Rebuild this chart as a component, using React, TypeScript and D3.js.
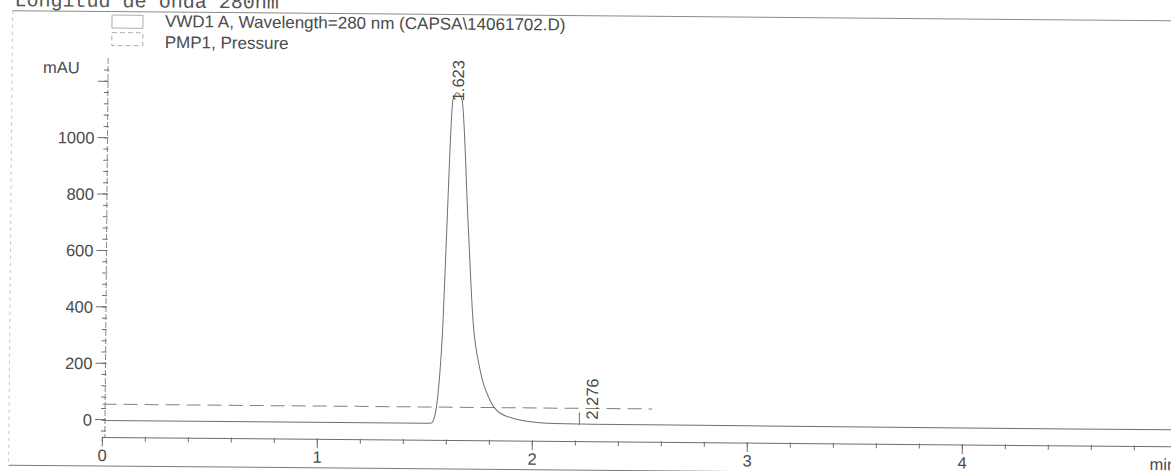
import { useEffect, useRef } from "react";
import * as d3 from "d3";

const W = 1171;
const H = 471;

const title = "Longitud de onda 280nm";
const legendItems = ["VWD1 A, Wavelength=280 nm (CAPSA\\14061702.D)", "PMP1, Pressure"];

// detector trace (min, mAU)
const sigTime = [0, 1.5, 1.53, 1.537, 1.555, 1.58, 1.593, 1.617, 1.636, 1.659, 1.693, 1.719, 1.754, 1.801, 1.848, 1.942, 2.0, 2.1, 2.276, 3.0, 4.0, 5.0];
const sigValue = [-3, -3, -2, 5, 69, 364, 673, 1144, 1170, 1145, 700, 365, 188, 82, 36, 12, 5, 0, -1, -2, -3, -3];

// pump pressure trace, drawn on the same axis
const pressTime = [0, 2.556];
const pressValue = [55, 55];

const peakLabels = ["1.623", "2.276"];
const peakLabelTime = [1.64, 2.276];
const peakLabelValue = [1140, 15];
const markerTime = [2.218];

const xMajor = [0, 1, 2, 3, 4];
const xMinor = d3.range(0, 25).map(i => i * 0.2);
const yMajor = [0, 200, 400, 600, 800, 1000, 1200];
const yLabels = ["0", "200", "400", "600", "800", "1000", ""];
const yMinor = d3.range(-1, 32).map(i => i * 40);

export default function App() {
  const svgRef = useRef<SVGSVGElement | null>(null);

  useEffect(() => {
    const svg = d3.select(svgRef.current);
    svg.selectAll("*").remove();

    const ink = "#6e6e6e";
    const textInk = "#4a4a4a";
    const sans = "'Liberation Sans', Arial, sans-serif";

    const x = d3.scaleLinear().domain([0, 5]).range([102.5, 1177.5]);
    const y = d3.scaleLinear().domain([0, 1200]).range([419.7, 81.3]);
    const axisX = 105;
    const axisY = 437.5;

    // the scan is tilted a little clockwise
    const g = svg.append("g").attr("transform", "rotate(0.5,105,420)");

    // title, cut off by the top of the page
    g.append("text")
      .attr("x", 11)
      .attr("y", 7)
      .attr("font-family", "'Liberation Mono', 'Courier New', monospace")
      .attr("font-size", 20)
      .attr("fill", "#555")
      .text(title);

    // frame
    g.append("line")
      .attr("x1", 9).attr("x2", W + 20)
      .attr("y1", 11.5).attr("y2", 11.5)
      .attr("stroke", "#8a8a8a").attr("stroke-width", 1);
    g.append("line")
      .attr("x1", 9).attr("x2", 9)
      .attr("y1", 11.5).attr("y2", 466)
      .attr("stroke", "#c4c4c4").attr("stroke-width", 1)
      .attr("stroke-dasharray", "3 4");
    g.append("line")
      .attr("x1", 9).attr("x2", W + 20)
      .attr("y1", 466).attr("y2", 466)
      .attr("stroke", "#7a7a7a").attr("stroke-width", 1);

    // legend
    legendItems.forEach((label, i) => {
      g.append("rect")
        .attr("x", 108.5)
        .attr("y", 15 + i * 17.5)
        .attr("width", 31)
        .attr("height", 13)
        .attr("fill", "none")
        .attr("stroke", "#9a9a9a")
        .attr("stroke-width", 0.8)
        .attr("stroke-dasharray", i === 1 ? "5 3" : null);
      g.append("text")
        .attr("x", 161.5)
        .attr("y", 26.5 + i * 21)
        .attr("font-family", sans)
        .attr("font-size", 17)
        .attr("fill", textInk)
        .text(label);
    });

    // y axis
    g.append("line")
      .attr("x1", axisX).attr("x2", axisX)
      .attr("y1", 58).attr("y2", axisY)
      .attr("stroke", "#8a8a8a").attr("stroke-dasharray", "6 2");

    g.selectAll("line.yminor")
      .data(yMinor)
      .join("line")
      .attr("class", "yminor")
      .attr("x1", axisX - 4).attr("x2", axisX + 1)
      .attr("y1", d => y(d)).attr("y2", d => y(d))
      .attr("stroke", ink);

    g.selectAll("line.ymajor")
      .data(yMajor)
      .join("line")
      .attr("class", "ymajor")
      .attr("x1", axisX - 10).attr("x2", axisX)
      .attr("y1", d => y(d)).attr("y2", d => y(d))
      .attr("stroke", ink);

    g.selectAll("text.ylab")
      .data(yMajor)
      .join("text")
      .attr("class", "ylab")
      .attr("x", 92)
      .attr("y", d => y(d))
      .attr("dy", "0.36em")
      .attr("text-anchor", "end")
      .attr("font-family", sans)
      .attr("font-size", 16.5)
      .attr("fill", textInk)
      .text((d, i) => yLabels[i]);

    g.append("text")
      .attr("x", 40)
      .attr("y", 73.5)
      .attr("font-family", sans)
      .attr("font-size", 16.5)
      .attr("fill", textInk)
      .text("mAU");

    // x axis
    g.append("line")
      .attr("x1", x(0)).attr("x2", W + 20)
      .attr("y1", axisY).attr("y2", axisY)
      .attr("stroke", ink);

    g.selectAll("line.xminor")
      .data(xMinor)
      .join("line")
      .attr("class", "xminor")
      .attr("x1", d => x(d)).attr("x2", d => x(d))
      .attr("y1", axisY - 1).attr("y2", axisY + 4)
      .attr("stroke", ink);

    g.selectAll("line.xmajor")
      .data(xMajor)
      .join("line")
      .attr("class", "xmajor")
      .attr("x1", d => x(d)).attr("x2", d => x(d))
      .attr("y1", axisY).attr("y2", axisY + 9)
      .attr("stroke", ink);

    g.selectAll("text.xlab")
      .data(xMajor)
      .join("text")
      .attr("class", "xlab")
      .attr("x", d => x(d))
      .attr("y", 461)
      .attr("text-anchor", "middle")
      .attr("font-family", sans)
      .attr("font-size", 16.5)
      .attr("fill", textInk)
      .text(d => String(d));

    g.append("text")
      .attr("x", 1150)
      .attr("y", 461)
      .attr("font-family", sans)
      .attr("font-size", 16.5)
      .attr("fill", textInk)
      .text("min");

    // traces
    const line = d3.line<number>()
      .x(d => x(d))
      .curve(d3.curveMonotoneX);

    g.append("path")
      .attr("d", line.y((d, i) => y(pressValue[i]))(pressTime))
      .attr("fill", "none")
      .attr("stroke", "#808080")
      .attr("stroke-width", 1)
      .attr("stroke-dasharray", "14 7");

    g.append("path")
      .attr("d", line.y((d, i) => y(sigValue[i]))(sigTime))
      .attr("fill", "none")
      .attr("stroke", "#707070")
      .attr("stroke-width", 1);

    // baseline marker
    g.selectAll("line.marker")
      .data(markerTime)
      .join("line")
      .attr("class", "marker")
      .attr("x1", d => x(d)).attr("x2", d => x(d))
      .attr("y1", y(40)).attr("y2", y(-5))
      .attr("stroke", ink);

    // retention time labels
    g.selectAll("text.rt")
      .data(peakLabels)
      .join("text")
      .attr("class", "rt")
      .attr("transform", (d, i) => `translate(${x(peakLabelTime[i]) + 6},${y(peakLabelValue[i])}) rotate(-90)`)
      .attr("font-family", sans)
      .attr("font-size", 16.5)
      .attr("fill", textInk)
      .text(d => d);
  }, []);

  return (
    <svg
      ref={svgRef}
      width={W}
      height={H}
      style={{ position: "absolute", left: 0, top: 0, display: "block", background: "#fff" }}
    />
  );
}
